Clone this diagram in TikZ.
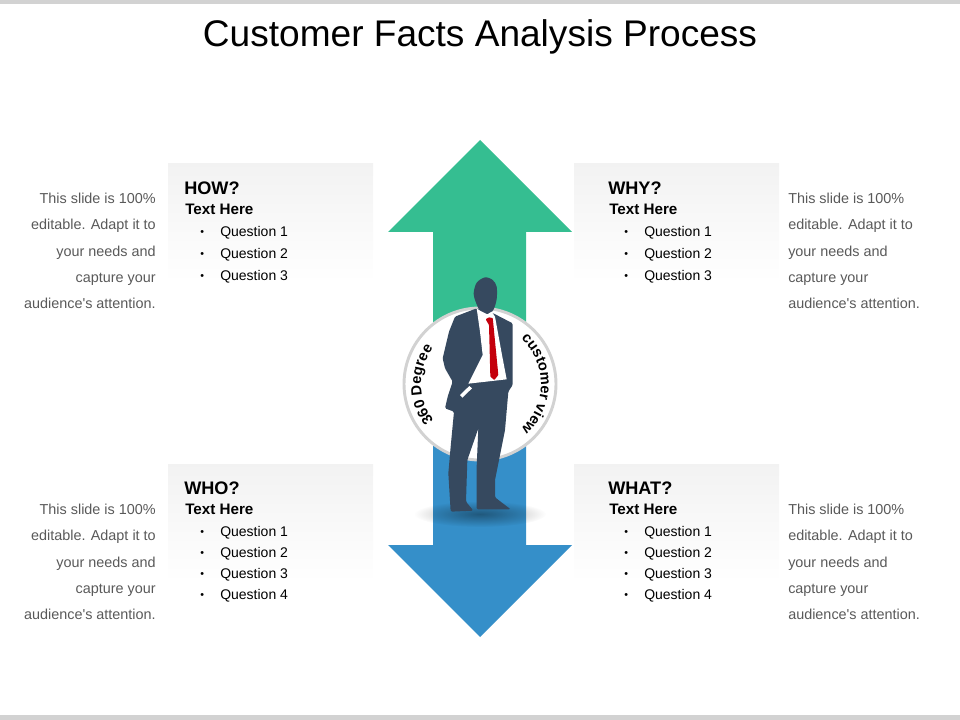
\documentclass[tikz,border=0pt]{standalone}
\usepackage{fontspec}
\setmainfont{Liberation Sans}[Ligatures=TeXOff]
\usetikzlibrary{decorations.text, fadings}
\definecolor{arrowGreen}{HTML}{35BE91}
\definecolor{arrowBlue}{HTML}{358FC9}
\definecolor{suitBlue}{HTML}{36495F}
\definecolor{tieRed}{HTML}{C4000C}
\definecolor{sideGray}{HTML}{595959}
\definecolor{barGray}{HTML}{D2D2D2}
\tikzfading[name=softShadow, inner color=transparent!62, outer color=transparent!100]
\begin{document}
\begin{tikzpicture}[
            x=.75pt, y=-.75pt,
            panel/.style={top color=black!5, bottom color=white, draw=none},
            headtext/.style={anchor=base west, inner sep=0pt, font=\bfseries\fontsize{13.6}{16}\selectfont},
            subtext/.style={anchor=base west, inner sep=0pt, font=\bfseries\fontsize{11.4}{14}\selectfont},
            listtext/.style={anchor=base west, inner sep=0pt, font=\fontsize{10.5}{13}\selectfont},
            dottext/.style={anchor=base west, inner sep=0pt, font=\fontsize{8}{10}\selectfont},
            sidetext/.style={inner sep=0pt, text=sideGray, font=\fontsize{10.8}{19.75}\selectfont},
            circletext/.style={decorate, decoration={text along path, text align=center, text={|\bfseries\fontsize{11}{13}\selectfont|#1}}}
        ]
        \def\sidelines{This slide is 100\%\\editable. Adapt it to\\your needs and\\capture your\\audience's attention.}
        \useasboundingbox (0, 0) rectangle (960, 720);
        \fill[barGray] (0, 0) rectangle (960, 4);
        \fill[barGray] (0, 715) rectangle (960, 720);
        \node (title) at (480, 37) [inner sep=0pt, font=\fontsize{27.8}{32}\selectfont] {Customer Facts Analysis Process};

        \foreach \panel/\px/\py/\tx/\head/\num/\qy/\qgap in {how/168/164/168/HOW?/3/73/21.7, why/574/164/592/WHY?/3/73/21.7, who/168/464/168/WHO?/4/72/21, what/574/464/592/WHAT?/4/72/21}{
            \shade[panel] (\px, \py) rectangle ({\px + 205}, {\py + 118});
            \node (\panel head) at ({\tx + 16}, {\py + 30.5}) [headtext] {\head};
            \node (\panel sub) at ({\tx + 17}, {\py + 50.5}) [subtext] {Text Here};
            \foreach \i in {1,...,\num}{
                \node (\panel bullet\i) at ({\tx + 32}, {\py + \qy - 1 + \qgap * (\i - 1)}) [dottext] {•};
                \node (\panel q\i) at ({\tx + 52}, {\py + \qy + \qgap * (\i - 1)}) [listtext] {Question \i};
            }
        }

        \node (how side) at (156, 251) [sidetext, anchor=east, align=right] {\sidelines};
        \node (who side) at (156, 562) [sidetext, anchor=east, align=right] {\sidelines};
        \node (why side) at (788, 251) [sidetext, anchor=west, align=left] {\sidelines};
        \node (what side) at (788, 562) [sidetext, anchor=west, align=left] {\sidelines};

        \fill[arrowGreen] (480, 140) -- (572, 232) -- (526, 232) -- (526, 384) -- (433, 384) -- (433, 232) -- (388, 232) -- cycle;
        \fill[arrowBlue] (480, 637) -- (572, 545) -- (526, 545) -- (526, 384) -- (433, 384) -- (433, 545) -- (388, 545) -- cycle;
        \fill[black, path fading=softShadow] (480, 514) ellipse (66 and 13);

        \draw[barGray, fill=white, line width=2.2pt] (480, 384) circle (76);
        \path[circletext={360 Degree}] (480, 384) ++(240.5:59 and -59) arc[start angle=-240.5, end angle=-120.5, radius=59];
        \path[circletext={customer view}] (480, 384) ++(60:61 and -61) arc[start angle=-60, end angle=60, radius=61];

        \begin{scope}[shift={(380, 260)}, x=.25pt, y=-.25pt]
            \fill[suitBlue] plot[smooth cycle] coordinates {(315, 52) (290, 68) (281, 100) (288, 128) (302, 155) (325, 163) (340, 150) (350, 118) (350, 80) (338, 60)};
            \fill[suitBlue, rounded corners=1pt] (290, 145) -- (225, 170) -- (207, 215) -- (188, 295) -- (195, 325) -- (218, 365) -- (203, 410) -- (195, 445) -- (222, 455) -- (212, 560) -- (205, 640) -- (212, 755) -- (280, 752) -- (258, 725) -- (262, 600) -- (295, 505) -- (290, 620) -- (290, 748) -- (392, 748) -- (345, 712) -- (345, 660) -- (375, 510) -- (385, 395) -- (398, 375) -- (398, 190) -- (340, 160) -- cycle;
            \fill[white] (290, 145) -- (300, 215) -- (308, 285) -- (265, 371) -- (380, 358) -- (366, 285) -- (345, 170) -- (335, 155) -- (322, 163) -- (300, 152) -- cycle;
            \fill[white] (240, 405) -- (268, 378) -- (276, 385) -- (247, 413) -- cycle;
            \fill[tieRed, rounded corners=.5pt] (317, 178) -- (326, 172) -- (338, 174) -- (340, 192) -- (355, 345) -- (343, 360) -- (331, 350) -- (327, 195) -- cycle;
        \end{scope}
    \end{tikzpicture}
\end{document}
